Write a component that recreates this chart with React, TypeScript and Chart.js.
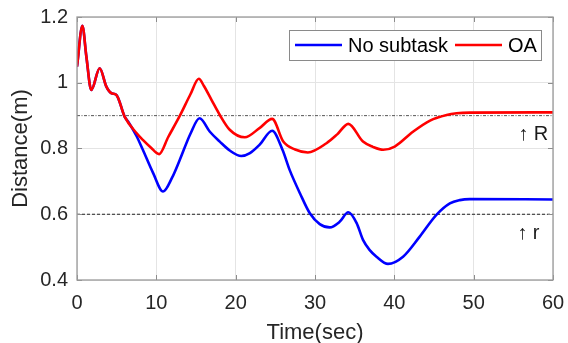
import React, { useEffect, useRef } from "react";
import { Chart, registerables } from "chart.js";

Chart.register(...registerables);

// Distance to the obstacle over time for both controllers
const timeOA = [
  0, 0.68, 1.18, 1.8, 2.86, 3.7, 4.35, 4.97, 6.0, 7.5, 8.3, 9.3, 10.35, 11.5,
  12.95, 14.3, 15.35, 16.0, 16.95, 18.0, 19.25, 21.15, 23.0, 24.6, 26.0, 27.5,
  29.1, 31.45, 32.8, 34.2, 36.05, 37.3, 38.6, 40.05, 42.35, 44.5, 46.6, 47.85,
  49.5, 60,
];
const distOA = [
  1.049, 1.173, 1.08, 0.978, 1.044, 0.988, 0.968, 0.963, 0.897, 0.847, 0.826,
  0.803, 0.783, 0.835, 0.899, 0.965, 1.012, 0.99, 0.948, 0.902, 0.857, 0.834,
  0.862, 0.89, 0.821, 0.797, 0.788, 0.816, 0.843, 0.875, 0.821, 0.805, 0.796,
  0.806, 0.851, 0.885, 0.902, 0.907, 0.909, 0.91,
];

const timeNoSubtask = [
  0, 0.68, 1.18, 1.8, 2.86, 3.7, 4.35, 4.97, 6.0, 6.5, 7.5, 8.3, 9.6, 10.85, 12.0,
  12.95, 14.3, 15.45, 16.75, 18.0, 19.25, 20.7, 21.8, 23.0, 24.6, 25.9, 26.8,
  28.1, 29.35, 30.6, 31.85, 33.1, 34.2, 35.25, 36.05, 36.9, 37.75, 39.2, 41.1,
  43.2, 45.3, 47.0, 48.25, 49.5, 60,
];
const distNoSubtask = [
  1.049, 1.173, 1.08, 0.978, 1.044, 0.988, 0.968, 0.963, 0.897, 0.88, 0.838,
  0.796, 0.725, 0.669, 0.712, 0.765, 0.845, 0.892, 0.851, 0.821, 0.794, 0.777,
  0.786, 0.811, 0.854, 0.796, 0.735, 0.664, 0.603, 0.57, 0.56, 0.577, 0.606,
  0.573, 0.522, 0.491, 0.471, 0.449, 0.471, 0.532, 0.598, 0.633, 0.643, 0.646,
  0.645,
];

const seriesLabels = ["No subtask", "OA"];
const seriesColors = ["#0000ff", "#ff0000"];

const xTicks = [0, 10, 20, 30, 40, 50, 60];
const yTicks = [0.4, 0.6, 0.8, 1.0, 1.2];

// Threshold levels R and r
const levelR = 0.9;
const levelr = 0.6;
const levelLabels = ["\u2191 R", "\u2191 r"];

const FONT = "'Liberation Sans', Arial, Helvetica, sans-serif";

const toPoints = (xs: number[], ys: number[]) => xs.map((x, i) => ({ x, y: ys[i] }));

const boxPlugin = {
  id: "matlabBox",
  afterDraw(chart: any) {
    const { ctx, chartArea: a, scales } = chart;
    const xs = scales.x;
    const ys = scales.y;
    ctx.save();
    // inward tick marks on all four sides
    ctx.strokeStyle = "#8c8c8c";
    ctx.lineWidth = 1;
    ctx.beginPath();
    xTicks.forEach((t) => {
      const px = Math.round(xs.getPixelForValue(t)) + 0.5;
      ctx.moveTo(px, a.bottom);
      ctx.lineTo(px, a.bottom - 5);
      ctx.moveTo(px, a.top);
      ctx.lineTo(px, a.top + 5);
    });
    yTicks.forEach((t) => {
      const py = Math.round(ys.getPixelForValue(t)) + 0.5;
      ctx.moveTo(a.left, py);
      ctx.lineTo(a.left + 5, py);
      ctx.moveTo(a.right, py);
      ctx.lineTo(a.right - 5, py);
    });
    ctx.stroke();
    // axes box
    ctx.strokeStyle = "#9a9a9a";
    ctx.lineWidth = 1.3;
    ctx.strokeRect(a.left, a.top, a.right - a.left, a.bottom - a.top);

    // level annotations
    ctx.fillStyle = "#1a1a1a";
    ctx.font = `20px ${FONT}`;
    ctx.textAlign = "center";
    ctx.textBaseline = "middle";
    ctx.fillText(levelLabels[0], xs.getPixelForValue(57.5), ys.getPixelForValue(0.842));
    ctx.fillText(levelLabels[1], xs.getPixelForValue(56.9), ys.getPixelForValue(0.54));

    // legend box
    const lx = 289, ly = 30, lw = 252, lh = 30;
    ctx.fillStyle = "#ffffff";
    ctx.fillRect(lx, ly, lw, lh);
    ctx.strokeStyle = "#8a8a8a";
    ctx.lineWidth = 1;
    ctx.strokeRect(lx + 0.5, ly + 0.5, lw, lh);
    const cy = ly + lh / 2;
    const starts = [295, 455];
    ctx.textAlign = "left";
    ctx.font = `20px ${FONT}`;
    seriesLabels.forEach((lab, i) => {
      ctx.strokeStyle = seriesColors[i];
      ctx.lineWidth = 2.5;
      ctx.beginPath();
      ctx.moveTo(starts[i], cy);
      ctx.lineTo(starts[i] + 47, cy);
      ctx.stroke();
      ctx.fillStyle = "#000000";
      ctx.fillText(lab, starts[i] + 53, cy + 1);
    });
    ctx.restore();
  },
};

export default function App() {
  const ref = useRef<HTMLCanvasElement | null>(null);

  useEffect(() => {
    if (!ref.current) return;
    const chart = new Chart(ref.current, {
      type: "line",
      data: {
        datasets: [
          {
            label: seriesLabels[0],
            data: toPoints(timeNoSubtask, distNoSubtask),
            borderColor: seriesColors[0],
            borderWidth: 2.6,
            pointRadius: 0,
            cubicInterpolationMode: "monotone",
            order: 1,
          },
          {
            label: seriesLabels[1],
            data: toPoints(timeOA, distOA),
            borderColor: seriesColors[1],
            borderWidth: 2.6,
            pointRadius: 0,
            cubicInterpolationMode: "monotone",
            order: 0,
          },
          {
            label: "R",
            data: toPoints([0, 60], [levelR, levelR]),
            borderColor: "#555555",
            borderWidth: 1,
            borderDash: [3, 1.5, 1, 1.5],
            pointRadius: 0,
            order: 2,
          },
          {
            label: "r",
            data: toPoints([0, 60], [levelr, levelr]),
            borderColor: "#222222",
            borderWidth: 1,
            borderDash: [3, 2],
            pointRadius: 0,
            order: 2,
          },
        ],
      },
      options: {
        animation: false,
        responsive: false,
        devicePixelRatio: 1,
        layout: { padding: { top: 17, right: 15, left: 0, bottom: 0 } },
        plugins: { legend: { display: false }, tooltip: { enabled: false } },
        scales: {
          x: {
            type: "linear",
            min: 0,
            max: 60,
            afterBuildTicks: (s: any) => {
              s.ticks = xTicks.map((v) => ({ value: v }));
            },
            afterFit: (s: any) => {
              s.height = 63;
              s.paddingLeft = 0;
              s.paddingRight = 0;
            },
            grid: { color: "#e4e4e4", drawTicks: false },
            border: { display: false },
            ticks: {
              color: "#262626",
              font: { family: FONT, size: 20 },
              padding: 11,
              maxRotation: 0,
              autoSkip: false,
            },
            title: {
              display: true,
              text: "Time(sec)",
              color: "#262626",
              font: { family: FONT, size: 22, lineHeight: 0.91 },
              padding: { top: 0, bottom: 0 },
            },
          },
          y: {
            type: "linear",
            min: 0.4,
            max: 1.2,
            afterBuildTicks: (s: any) => {
              s.ticks = yTicks.map((v) => ({ value: v }));
            },
            afterFit: (s: any) => {
              s.width = 77;
              s.paddingTop = 0;
              s.paddingBottom = 0;
            },
            grid: { color: "#e4e4e4", drawTicks: false },
            border: { display: false },
            ticks: {
              color: "#262626",
              font: { family: FONT, size: 20 },
              padding: 9,
              autoSkip: false,
              callback: (v: any) => String(Math.round(Number(v) * 10) / 10),
            },
            title: {
              display: true,
              text: "Distance(m)",
              color: "#262626",
              font: { family: FONT, size: 22, lineHeight: 1 },
              padding: { top: 10, bottom: 0 },
            },
          },
        },
      },
      plugins: [boxPlugin],
    });
    return () => chart.destroy();
  }, []);

  return (
    <div style={{ position: "fixed", left: 0, top: 0, width: 568, height: 343, background: "#fff" }}>
      <canvas ref={ref} width={568} height={343} style={{ display: "block" }} />
    </div>
  );
}
